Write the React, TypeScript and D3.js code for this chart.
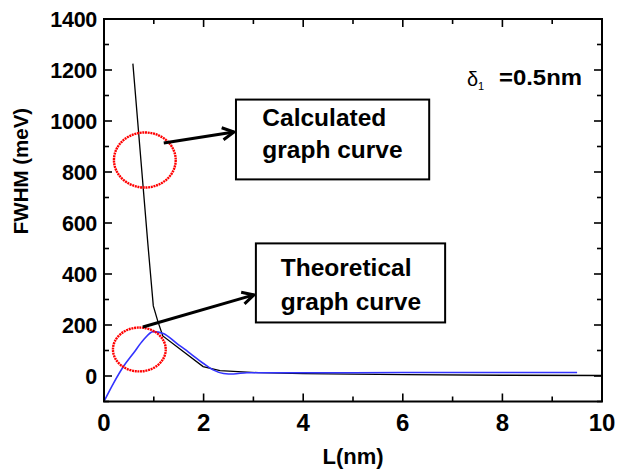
import React from 'react';
import * as d3 from 'd3';

// calculated curve (black), L in nm vs FWHM in meV
const calcL = [0.58, 0.88, 0.99, 1.08, 1.18, 1.99, 2.33, 3.1, 4, 6, 8, 10];
const calcFwhm = [1225, 520, 275, 215, 157, 37, 21, 13, 9, 5, 3, 2];

// theoretical curve (blue)
const theoL = [0, 0.19, 0.39, 0.59, 0.79, 0.99, 1.19, 1.46, 1.73, 1.99, 2.19, 2.4, 2.6, 2.87, 3.5, 5, 7, 9.5];
const theoFwhm = [-100, -29, 37, 89, 141, 174, 167, 128, 89, 50, 24, 10, 8, 13, 13, 13, 14, 14];

const xTicks = [0, 2, 4, 6, 8, 10];
const xMinor = [1, 3, 5, 7, 9];
const yTicks = [0, 200, 400, 600, 800, 1000, 1200, 1400];
const yMinor = [-100, 100, 300, 500, 700, 900, 1100, 1300];

// annotations, in data units
const circles = [
  { cx: 0.82, cy: 847, rx: 0.62, ry: 108 },
  { cx: 0.71, cy: 104, rx: 0.53, ry: 86 },
];
const arrows = [
  { x1: 1.2, y1: 914, x2: 2.61, y2: 957 },
  { x1: 0.78, y1: 192, x2: 3.01, y2: 318 },
];
const boxes = [
  { x0: 2.65, x1: 6.53, y0: 1084, y1: 771, lines: ['Calculated', 'graph curve'], tx: 3.18, ty: [982, 853] },
  { x0: 3.05, x1: 6.85, y0: 520, y1: 210, lines: ['Theoretical', 'graph curve'], tx: 3.55, ty: [393, 259] },
];

const W = 618, H = 473;
const font = 'Liberation Sans, Arial, sans-serif';

export default function App() {
  const x = d3.scaleLinear().domain([0, 10]).range([104, 602]);
  const y = d3.scaleLinear().domain([-100, 1400]).range([401.5, 19]);

  const calcLine = d3.line<number>()
    .x((d, i) => x(calcL[i]))
    .y(d => y(d));
  const theoLine = d3.line<number>()
    .x((d, i) => x(theoL[i]))
    .y(d => y(d))
    .curve(d3.curveMonotoneX);

  const [x0, x1] = x.range();
  const [yb, yt] = y.range();

  const arrowHead = (a) => {
    const tx = x(a.x2), ty = y(a.y2);
    const ang = Math.atan2(ty - y(a.y1), tx - x(a.x1));
    const len = 13, spread = Math.PI / 6.5;
    const p1 = [tx - len * Math.cos(ang - spread), ty - len * Math.sin(ang - spread)];
    const p2 = [tx - len * Math.cos(ang + spread), ty - len * Math.sin(ang + spread)];
    return `M${p1[0]},${p1[1]}L${tx},${ty}L${p2[0]},${p2[1]}`;
  };

  return (
    <svg width={W} height={H} style={{ position: 'absolute', left: 0, top: 0, background: '#fff' }}>
      {/* curves */}
      <path d={calcLine(calcFwhm)} fill="none" stroke="#000" strokeWidth={1.3} />
      <path d={theoLine(theoFwhm)} fill="none" stroke="#3333ff" strokeWidth={1.6} />

      {/* frame */}
      <rect x={x0} y={yt} width={x1 - x0} height={yb - yt} fill="none" stroke="#000" strokeWidth={2} />

      {/* x ticks */}
      {xTicks.map(t => (
        <g key={'xt' + t}>
          <line x1={x(t)} x2={x(t)} y1={yb} y2={yb - 8} stroke="#000" strokeWidth={1.6} />
          <line x1={x(t)} x2={x(t)} y1={yt} y2={yt + 8} stroke="#000" strokeWidth={1.6} />
          <text x={x(t)} y={430.5} textAnchor="middle" fontFamily={font} fontWeight="bold" fontSize={24}>{t}</text>
        </g>
      ))}
      {xMinor.map(t => (
        <g key={'xm' + t}>
          <line x1={x(t)} x2={x(t)} y1={yb} y2={yb - 5} stroke="#000" strokeWidth={1.6} />
          <line x1={x(t)} x2={x(t)} y1={yt} y2={yt + 5} stroke="#000" strokeWidth={1.6} />
        </g>
      ))}

      {/* y ticks */}
      {yTicks.map(t => (
        <g key={'yt' + t}>
          <line x1={x0} x2={x0 + 8} y1={y(t)} y2={y(t)} stroke="#000" strokeWidth={1.6} />
          <line x1={x1} x2={x1 - 8} y1={y(t)} y2={y(t)} stroke="#000" strokeWidth={1.6} />
          <text x={97} y={y(t) + 7.5} textAnchor="end" fontFamily={font} fontWeight="bold" fontSize={21.5}
                style={{ letterSpacing: '-0.3px' }}>{t}</text>
        </g>
      ))}
      {yMinor.map(t => (
        <g key={'ym' + t}>
          <line x1={x0} x2={x0 + 5} y1={y(t)} y2={y(t)} stroke="#000" strokeWidth={1.6} />
          <line x1={x1} x2={x1 - 5} y1={y(t)} y2={y(t)} stroke="#000" strokeWidth={1.6} />
        </g>
      ))}

      {/* axis titles */}
      <text x={353} y={464} textAnchor="middle" fontFamily={font} fontWeight="bold" fontSize={22}>L(nm)</text>
      <text transform="translate(28,171) rotate(-90)" textAnchor="middle" fontFamily={font} fontWeight="bold" fontSize={20.5}>FWHM (meV)</text>

      {/* delta label */}
      <text x={467} y={86} fontFamily={font} fontSize={20}>δ</text>
      <text x={478} y={90} fontFamily={font} fontSize={11}>1</text>
      <text x={499} y={85} fontFamily={font} fontWeight="bold" fontSize={22} textLength={83} lengthAdjust="spacingAndGlyphs">=0.5nm</text>

      {/* dotted circles */}
      {circles.map((c, i) => (
        <ellipse key={'c' + i} cx={x(c.cx)} cy={y(c.cy)}
                 rx={x(c.cx + c.rx) - x(c.cx)} ry={y(c.cy) - y(c.cy + c.ry)}
                 fill="none" stroke="#ff0000" strokeWidth={2.4} strokeDasharray="2 0.7" />
      ))}

      {/* arrows */}
      {arrows.map((a, i) => (
        <g key={'a' + i}>
          <line x1={x(a.x1)} y1={y(a.y1)} x2={x(a.x2)} y2={y(a.y2)} stroke="#000" strokeWidth={3} />
          <path d={arrowHead(a)} fill="none" stroke="#000" strokeWidth={3} />
        </g>
      ))}

      {/* text boxes */}
      {boxes.map((b, i) => (
        <g key={'b' + i}>
          <rect x={x(b.x0)} y={y(b.y0)} width={x(b.x1) - x(b.x0)} height={y(b.y1) - y(b.y0)}
                fill="#fff" stroke="#000" strokeWidth={2} />
          {b.lines.map((s, j) => (
            <text key={j} x={x(b.tx)} y={y(b.ty[j])} fontFamily={font} fontWeight="bold" fontSize={24.5}>{s}</text>
          ))}
        </g>
      ))}
    </svg>
  );
}
